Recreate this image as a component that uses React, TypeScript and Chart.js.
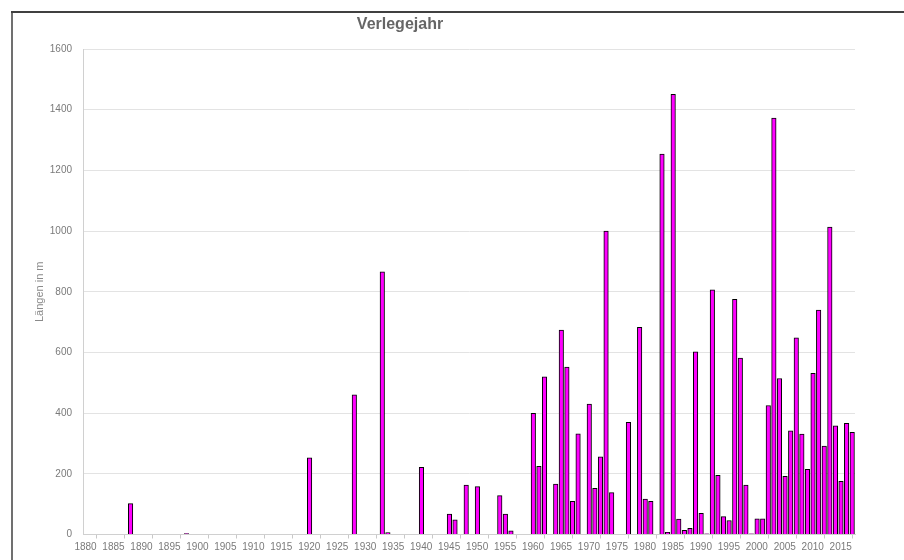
import React, { useEffect, useRef } from "react";
import { Chart, registerables } from "chart.js";

Chart.register(...registerables);

const chartTitle = "Verlegejahr";
const yAxisTitle = "Längen in m";

const years: number[] = [
  1888, 1898, 1920, 1928, 1933, 1934, 1940, 1945, 1946, 1948, 1950,
  1954, 1955, 1956, 1960, 1961, 1962, 1964, 1965, 1966, 1967, 1968,
  1970, 1971, 1972, 1973, 1974, 1977, 1979, 1980, 1981, 1983, 1984,
  1985, 1986, 1987, 1988, 1989, 1990, 1991, 1992, 1993, 1994, 1995,
  1996, 1997, 1998, 1999, 2000, 2001, 2002, 2003, 2004, 2005, 2006,
  2007, 2008, 2009, 2010, 2011, 2012, 2013, 2014, 2015, 2016, 2017,
];

const lengths: number[] = [
  102, 3, 253, 460, 866, 6, 221, 67, 48, 163, 158,
  128, 67, 12, 399, 225, 520, 166, 674, 552, 109, 332,
  430, 152, 256, 1000, 138, 370, 683, 117, 109, 1254, 7,
  1451, 51, 14, 20, 602, 70, 2, 806, 195, 59, 46,
  775, 581, 163, 2, 52, 52, 425, 1372, 514, 192, 342,
  648, 331, 215, 531, 740, 291, 1013, 358, 175, 366, 337,
];

const xMin = 1880;
const xMax = 2018;
const xStep = 5;
const yMin = 0;
const yMax = 1600;
const yStep = 200;

const FONT = "'Liberation Sans', Arial, Helvetica, sans-serif";

const framePlugin = {
  id: "frameAndTitle",
  beforeDraw(chart: any) {
    const ctx = chart.ctx;
    ctx.save();
    ctx.fillStyle = "#ffffff";
    ctx.fillRect(0, 0, chart.width, chart.height);
    ctx.restore();
  },
  afterDraw(chart: any) {
    const ctx = chart.ctx;
    ctx.save();
    ctx.strokeStyle = "#404040";
    ctx.lineWidth = 2;
    ctx.beginPath();
    ctx.moveTo(11, 12);
    ctx.lineTo(chart.width, 12);
    ctx.stroke();
    ctx.lineWidth = 1.5;
    ctx.beginPath();
    ctx.moveTo(12, 12);
    ctx.lineTo(12, chart.height);
    ctx.stroke();
    ctx.fillStyle = "#666666";
    ctx.font = `bold 16px ${FONT}`;
    ctx.textAlign = "center";
    ctx.textBaseline = "middle";
    ctx.fillText(chartTitle, 400, 25);
    ctx.restore();
  },
};

export default function App() {
  const canvasRef = useRef<HTMLCanvasElement | null>(null);

  useEffect(() => {
    if (!canvasRef.current) return;
    const data = years.map((yr, i) => ({ x: yr + 0.5, y: lengths[i] }));
    const chart = new Chart(canvasRef.current, {
      type: "bar",
      data: {
        datasets: [
          {
            data: data as any,
            backgroundColor: "#ff00ff",
            borderColor: "#000000",
            borderWidth: 1,
            barThickness: 4.5,
          },
        ],
      },
      options: {
        responsive: false,
        animation: false,
        events: [],
        layout: { padding: { left: 0, right: 49, top: 49, bottom: 0 } },
        plugins: {
          legend: { display: false },
          title: { display: false },
          tooltip: { enabled: false },
        },
        scales: {
          x: {
            type: "linear",
            min: xMin,
            max: xMax,
            offset: false,
            afterFit(scale: any) {
              scale.height = 25.5;
            },
            border: { display: true, color: "#d0d0d0", width: 1 },
            grid: {
              display: true,
              drawOnChartArea: false,
              drawTicks: true,
              tickLength: 4,
              tickColor: "#c8c8c8",
            },
            ticks: {
              stepSize: xStep,
              includeBounds: false,
              autoSkip: false,
              maxRotation: 0,
              minRotation: 0,
              padding: 3,
              labelOffset: 2.5,
              color: "#7a7a7a",
              font: { family: FONT, size: 10 },
              callback: (v: any) => String(v),
            },
          },
          y: {
            type: "linear",
            min: yMin,
            max: yMax,
            afterFit(scale: any) {
              scale.width = 83;
            },
            border: { display: true, color: "#d0d0d0", width: 1 },
            grid: {
              display: true,
              drawTicks: false,
              color: "#e3e3e3",
              lineWidth: 1,
            },
            ticks: {
              stepSize: yStep,
              padding: 11,
              color: "#7a7a7a",
              font: { family: FONT, size: 10 },
              callback: (v: any) => String(v),
            },
            title: {
              display: true,
              text: yAxisTitle,
              color: "#8a8a8a",
              font: { family: FONT, size: 11 },
              padding: { top: 33, bottom: 0 },
            },
          },
        },
      },
      plugins: [framePlugin],
    });
    return () => chart.destroy();
  }, []);

  return (
    <div style={{ position: "absolute", left: 0, top: 0, width: 904, height: 560 }}>
      <canvas ref={canvasRef} width={904} height={560} style={{ display: "block" }} />
    </div>
  );
}
